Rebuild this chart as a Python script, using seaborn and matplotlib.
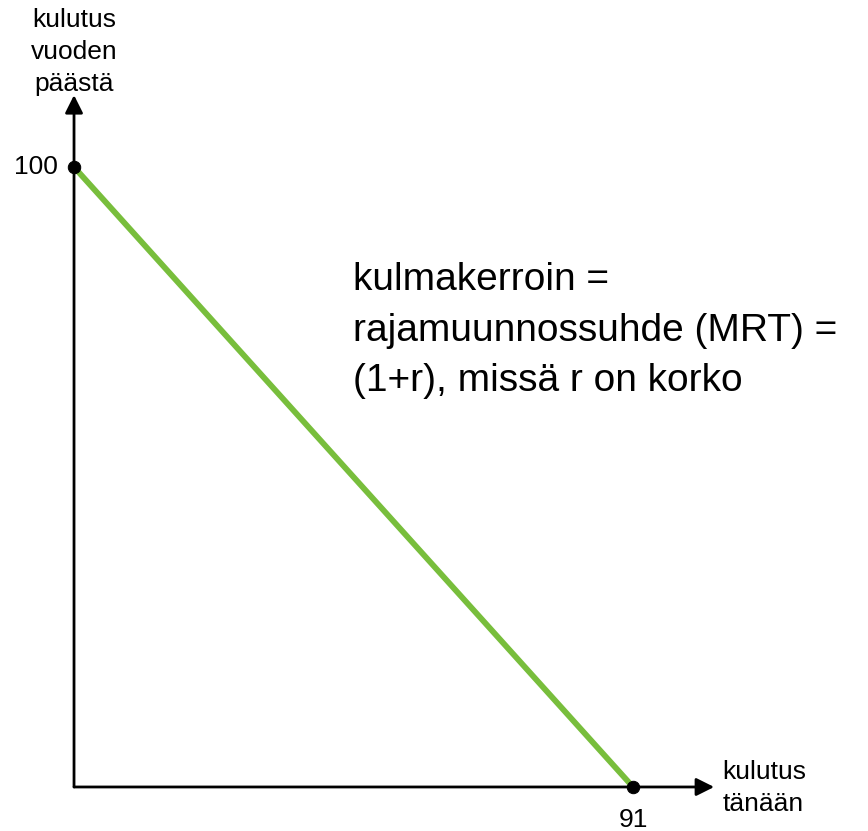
import matplotlib
matplotlib.use("Agg")
import matplotlib.pyplot as plt
import seaborn as sns
import pandas as pd

# data: budget line between consumption today and next year
x_points = [0, 91]
y_points = [100, 0]
x_ticklabel = "91"
y_ticklabel = "100"
x_label = "kulutus\ntänään"
y_label = "kulutus\nvuoden\npäästä"
note = "kulmakerroin =\nrajamuunnossuhde (MRT) =\n(1+r), missä r on korko"

sns.set_style("white")
plt.rcParams["font.family"] = ["Liberation Sans", "DejaVu Sans"]
plt.rcParams["text.color"] = "black"

df = pd.DataFrame({"tanaan": x_points, "vuoden_paasta": y_points})

fig = plt.figure(figsize=(8.68, 8.31), dpi=100)
ax = fig.add_axes([0, 0, 1, 1])

# axes arrows
arrow = dict(arrowstyle="-|>,head_length=0.72,head_width=0.36", mutation_scale=15,
             color="black", lw=2, shrinkA=0, shrinkB=0)
ax.annotate("", xy=(0, 111.6), xytext=(0, 0), arrowprops=arrow)
ax.annotate("", xy=(104.2, 0), xytext=(0, 0), arrowprops=arrow)

sns.lineplot(data=df, x="tanaan", y="vuoden_paasta", color="#78BE3C", linewidth=4.2, ax=ax)
sns.scatterplot(data=df, x="tanaan", y="vuoden_paasta", color="black", s=80,
                edgecolor="black", zorder=5, ax=ax)

ax.text(0, 118.6, y_label, ha="center", va="center", fontsize=19, linespacing=1.42)
ax.text(105.6, -0.1, x_label, ha="left", va="center", fontsize=19, linespacing=1.42)
ax.text(-2.6, 100, y_ticklabel, ha="right", va="center", fontsize=19)
ax.text(91, -5.3, x_ticklabel, ha="center", va="center", fontsize=19)
ax.text(45.4, 73.6, note, ha="left", va="center", fontsize=28, linespacing=1.52)

ax.set_xlim(-12.05, 129.25)
ax.set_ylim(-7.10, 126.94)
ax.axis("off")

plt.savefig("out.png", dpi=100)
